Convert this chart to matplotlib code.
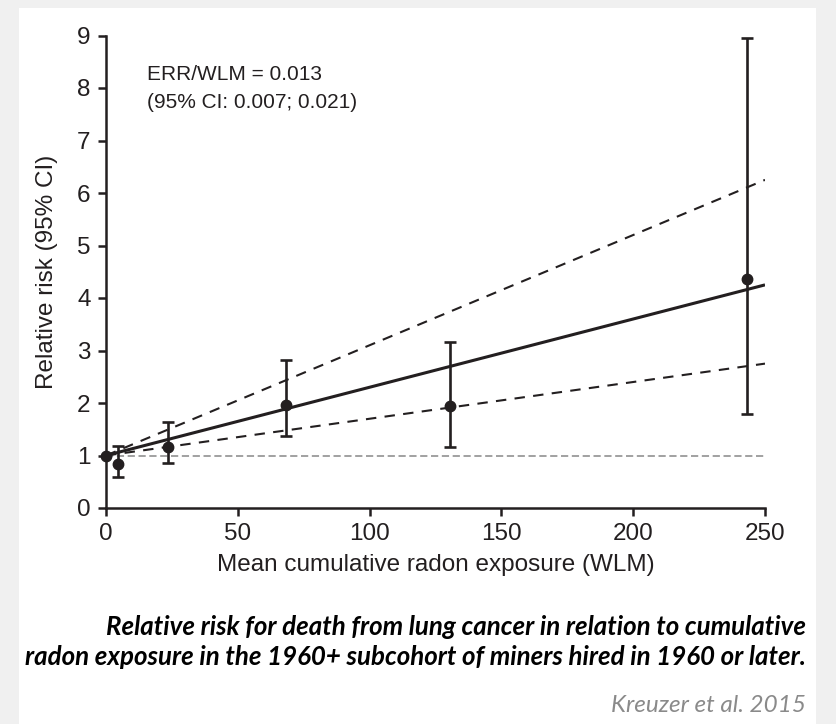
import matplotlib
matplotlib.use("Agg")
import matplotlib.pyplot as plt
from matplotlib.patches import Rectangle

# ---- data ----
exposure = [0, 4.5, 23.5, 68.3, 130.5, 243]
rr = [1.0, 0.84, 1.17, 1.96, 1.94, 4.36]
ci_low = [1.0, 0.60, 0.85, 1.37, 1.16, 1.80]
ci_high = [1.0, 1.19, 1.63, 2.82, 3.17, 8.95]
err_per_wlm = 0.013
err_ci = (0.007, 0.021)
x_fit = [0, 250]
xticks = [0, 50, 100, 150, 200, 250]
yticks = list(range(0, 10))

W, H = 836, 724
fig = plt.figure(figsize=(W / 100, H / 100), dpi=100)
fig.patch.set_facecolor("#f0f0f0")
# white card
fig.add_artist(Rectangle((19 / W, 0), (816 - 19) / W, (H - 8) / H,
                         transform=fig.transFigure, facecolor="white",
                         edgecolor="none", zorder=0))

plt.rcParams['font.family'] = ['Liberation Sans', 'DejaVu Sans']
ink = "#231f20"

ax = fig.add_axes([106 / W, (H - 508) / H, (765 - 106) / W, (508 - 35.5) / H])
ax.set_facecolor("none")
ax.set_xlim(0, 250)
ax.set_ylim(0, 9)

# reference line
ax.plot(x_fit, [1, 1], color="#9a9a9a", lw=1.3, ls=(0, (4, 2)), zorder=1)
# fitted lines
ax.plot(x_fit, [1 + err_per_wlm * x for x in x_fit], color=ink, lw=2.2,
        solid_capstyle="butt", zorder=3)
for b in err_ci:
    ax.plot(x_fit, [1 + b * x for x in x_fit], color=ink, lw=1.5,
            ls=(0, (5, 4)), zorder=2)

# points with error bars
lo = [r - l for r, l in zip(rr, ci_low)]
hi = [h - r for r, h in zip(rr, ci_high)]
ax.errorbar(exposure[1:], rr[1:], yerr=[lo[1:], hi[1:]], fmt="none",
            ecolor=ink, elinewidth=1.9, capsize=4.5, capthick=1.9,
            zorder=4, clip_on=False)
ax.plot(exposure, rr, "o", color=ink, ms=7.5, zorder=5, clip_on=False)

# axes styling
for s in ["top", "right"]:
    ax.spines[s].set_visible(False)
for s in ["left", "bottom"]:
    ax.spines[s].set_linewidth(1.8)
    ax.spines[s].set_color(ink)
ax.set_xticks(xticks)
ax.set_yticks(yticks)
ax.tick_params(direction="out", length=6, width=1.8, color=ink,
               labelsize=17.5, labelcolor="#231f20", pad=5)
ax.set_xlabel("Mean cumulative radon exposure (WLM)", fontsize=17.5,
              color="#231f20", labelpad=6)
ax.set_ylabel("Relative risk (95% CI)", fontsize=17.5, color="#231f20",
              labelpad=14)

ax.text(15.5, 8.25, f"ERR/WLM = {err_per_wlm:.3f}", fontsize=15,
        color="#231f20", va="center", ha="left")
ax.text(15.5, 7.72, f"(95% CI: {err_ci[0]:.3f}; {err_ci[1]:.3f})",
        fontsize=15, color="#231f20", va="center", ha="left")

# caption
cap1 = "Relative risk for death from lung cancer in relation to cumulative"
cap2 = "radon exposure in the 1960+ subcohort of miners hired in 1960 or later."
cap_font = ['Lato', 'DejaVu Sans']
t2 = fig.text(806 / W, (H - 657) / H, cap2, ha="right", va="center",
              fontsize=16, fontweight="bold", fontstyle="italic",
              family=cap_font, color="black")
t3 = fig.text(806 / W, (H - 706) / H, "Kreuzer et al. 2015", ha="right",
              va="center", fontsize=16, fontstyle="italic", family=cap_font,
              color="#8a8a8a")
fig.canvas.draw()
r = fig.canvas.get_renderer()
fs = 16 * (806 - 23) / t2.get_window_extent(r).width
t2.set_fontsize(fs)
t3.set_fontsize(16 * 195 / t3.get_window_extent(r).width)
fig.text(806 / W, (H - 627) / H, cap1, ha="right", va="center",
         fontsize=fs, fontweight="bold", fontstyle="italic",
         family=cap_font, color="black")

fig.savefig("out.png", dpi=100, facecolor=fig.get_facecolor())
